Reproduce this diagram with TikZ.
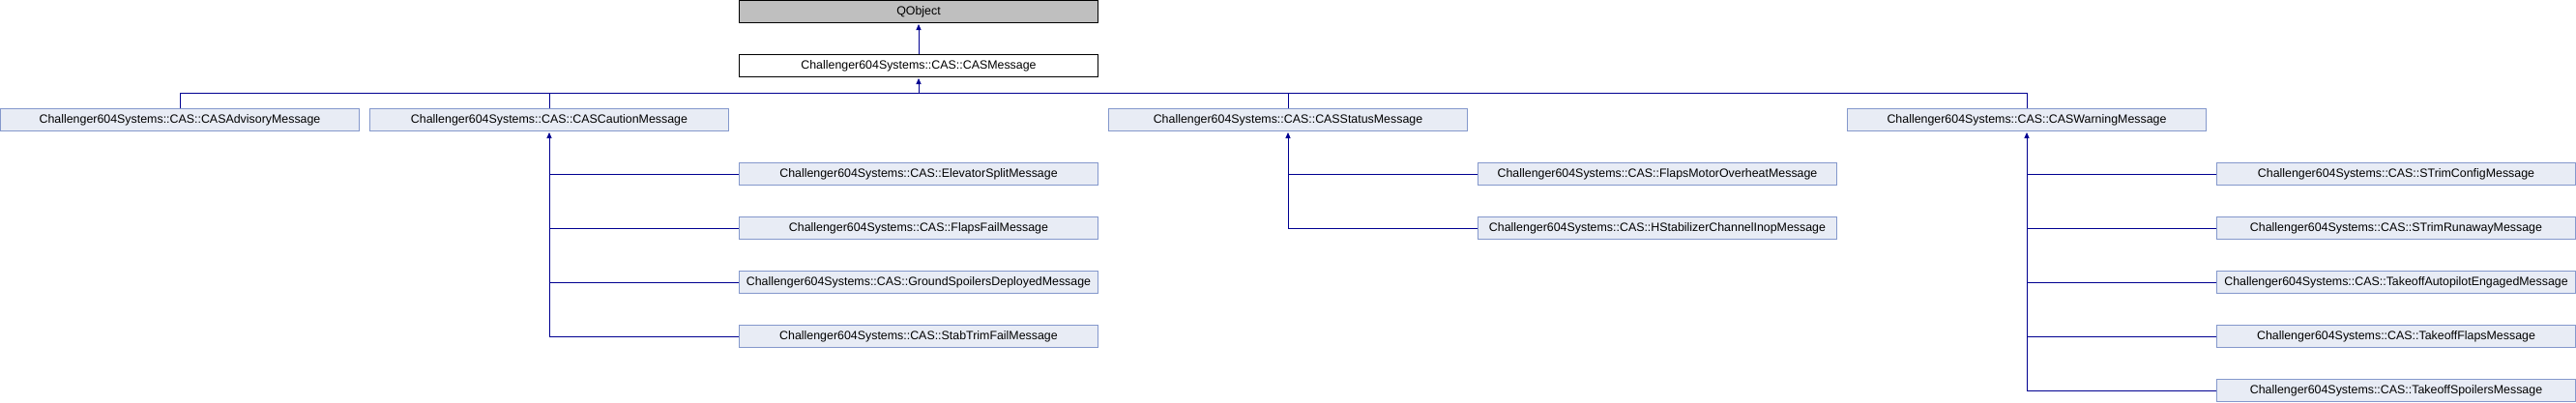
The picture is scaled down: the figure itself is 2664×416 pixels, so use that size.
\documentclass[tikz,border=0pt]{standalone}
\usepackage{fontspec}
\setmainfont{Liberation Sans}
\usetikzlibrary{arrows.meta}
\definecolor{boxfill}{RGB}{232,236,245}
\definecolor{boxline}{RGB}{132,152,204}
\definecolor{conn}{RGB}{0,0,145}
\definecolor{basefill}{RGB}{191,191,191}
\tikzset{
  cls/.style={draw=boxline, fill=boxfill, line width=1pt, minimum width=371pt,
    minimum height=23pt, inner sep=0pt, font=\fontsize{12.4pt}{14pt}\selectfont},
  basecls/.style={cls, draw=black, fill=basefill},
  selfcls/.style={cls, draw=black, fill=white},
  conline/.style={draw=conn, line width=1pt},
  inherit/.style={conline, -{Triangle[length=6pt,width=5pt]}, shorten >=1pt},
}
\begin{document}
\begin{tikzpicture}[x=1pt,y=-1pt]
\useasboundingbox (0,0) rectangle (2664,416);
% row 0 and 1
\node[basecls] (qobj) at (950,12) {QObject};
\node[selfcls] (cas) at (950,68) {Challenger604Systems::CAS::CASMessage};
% row 2
\node[cls] (adv) at (186,124) {Challenger604Systems::CAS::CASAdvisoryMessage};
\node[cls] (cau) at (568,124) {Challenger604Systems::CAS::CASCautionMessage};
\node[cls] (sta) at (1332,124) {Challenger604Systems::CAS::CASStatusMessage};
\node[cls] (war) at (2096,124) {Challenger604Systems::CAS::CASWarningMessage};
% caution children
\node[cls] (es) at (950,180) {Challenger604Systems::CAS::ElevatorSplitMessage};
\node[cls] (ff) at (950,236) {Challenger604Systems::CAS::FlapsFailMessage};
\node[cls] (gs) at (950,292) {Challenger604Systems::CAS::GroundSpoilersDeployedMessage};
\node[cls] (st) at (950,348) {Challenger604Systems::CAS::StabTrimFailMessage};
% status children
\node[cls] (fm) at (1714,180) {Challenger604Systems::CAS::FlapsMotorOverheatMessage};
\node[cls] (hs) at (1714,236) {Challenger604Systems::CAS::HStabilizerChannelInopMessage};
% warning children
\node[cls] (sc) at (2478,180) {Challenger604Systems::CAS::STrimConfigMessage};
\node[cls] (sr) at (2478,236) {Challenger604Systems::CAS::STrimRunawayMessage};
\node[cls] (ta) at (2478,292) {Challenger604Systems::CAS::TakeoffAutopilotEngagedMessage};
\node[cls] (tf) at (2478,348) {Challenger604Systems::CAS::TakeoffFlapsMessage};
\node[cls] (ts) at (2478,404) {Challenger604Systems::CAS::TakeoffSpoilersMessage};
% connectors
\coordinate (bus) at (0,96);
\draw[inherit] (cas.north) -- (qobj.south);
\draw[conline] (adv.north) -- (adv.north |- bus) -- (war.north |- bus) -- (war.north);
\draw[conline] (cau.north) -- (cau.north |- bus);
\draw[conline] (sta.north) -- (sta.north |- bus);
\draw[inherit] (cas.south |- bus) -- (cas.south);
% caution
\draw[inherit] (cau.south |- st.west) -- (cau.south);
\foreach \c in {es,ff,gs,st} \draw[conline] (cau.south |- \c.west) -- (\c.west);
% status
\draw[inherit] (sta.south |- hs.west) -- (sta.south);
\foreach \c in {fm,hs} \draw[conline] (sta.south |- \c.west) -- (\c.west);
% warning
\draw[inherit] (war.south |- ts.west) -- (war.south);
\foreach \c in {sc,sr,ta,tf,ts} \draw[conline] (war.south |- \c.west) -- (\c.west);
\end{tikzpicture}
\end{document}
